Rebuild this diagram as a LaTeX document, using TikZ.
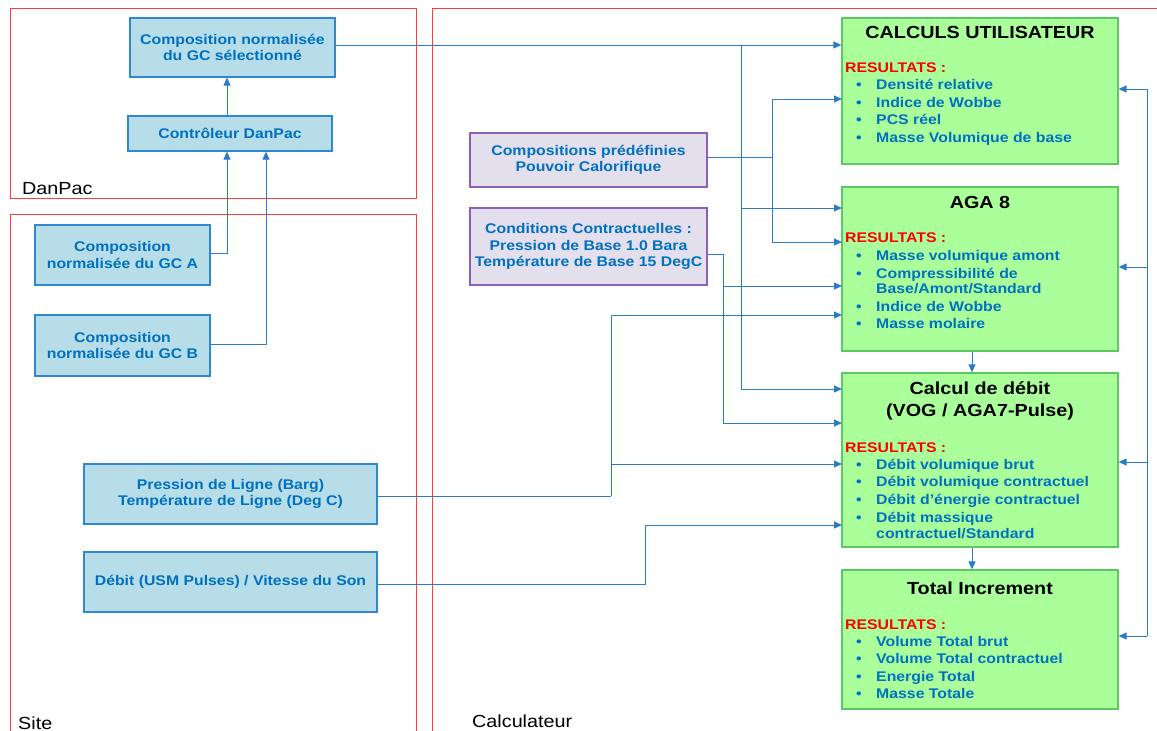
\documentclass[tikz,border=0pt]{standalone}
\usepackage{fontspec}
\setmainfont[FakeStretch=1.13]{Liberation Sans}
\usetikzlibrary{arrows.meta}
\definecolor{tblue}{HTML}{0070C0}
\definecolor{wblue}{HTML}{2A7CC7}
\definecolor{bfill}{HTML}{B7DEE8}
\definecolor{bbord}{HTML}{3088D0}
\definecolor{pfill}{HTML}{E4DFEC}
\definecolor{pbord}{HTML}{8C5FB8}
\definecolor{gfill}{HTML}{ABFF9B}
\definecolor{gbord}{HTML}{5CC863}
\definecolor{fred}{HTML}{FF3B3B}
\tikzset{
  basebox/.style={draw, line width=1.2pt, inner sep=0pt, align=center,
    font=\fontsize{14}{16.5}\selectfont\bfseries, text=tblue},
  bluebox/.style={basebox, draw=bbord, fill=bfill},
  purplebox/.style={basebox, draw=pbord, fill=pfill},
  greenbox/.style={basebox, draw=gbord, fill=gfill},
  wire/.style={draw=wblue, line width=1pt},
  conn/.style={wire, -{Triangle[length=8pt,width=7pt]}},
  frameline/.style={draw=fred, line width=1pt},
  boxtitle/.style={inner sep=0pt, align=center, text=black,
    font=\fontsize{17.5}{22}\selectfont\bfseries},
  restitle/.style={anchor=base west, inner sep=0pt, text=red,
    font=\fontsize{14}{16}\selectfont\bfseries},
  itemtext/.style={anchor=base west, inner sep=0pt, text=tblue,
    font=\fontsize{14}{16}\selectfont\bfseries},
  bulletmark/.style={anchor=base, inner sep=0pt, text=tblue,
    font=\fontsize{14}{16}\selectfont\bfseries},
  zonelabel/.style={anchor=base west, inner sep=0pt, text=black,
    font=\fontsize{17.5}{20}\selectfont}
}
\newcommand\resitem[3]{%
  \node[bulletmark] (#1b) at (859,#2+5) {\textbullet};
  \node[itemtext] (#1t) at (876,#2+5) {#3};}
\begin{document}
\begin{tikzpicture}[x=1pt,y=-1pt]
\useasboundingbox (0,0) rectangle (1157,731);
% zones
\draw[frameline] (10,8) rectangle (416,198);
\draw[frameline] (10,745) -- (10,214) -- (416,214) -- (416,745);
\draw[frameline] (432,745) -- (432,8) -- (1165,8);
\node[zonelabel] (lbl-danpac) at (22,194) {DanPac};
\node[zonelabel] (lbl-site) at (18,729) {Site};
\node[zonelabel] (lbl-calc) at (472,727) {Calculateur};

% blue boxes
\node[bluebox, minimum width=205pt, minimum height=59pt] (sel) at (232.5,47.5) {Composition normalisée\\du GC sélectionné};
\node[bluebox, minimum width=204pt, minimum height=35pt] (ctrl) at (230,133.5) {Contrôleur DanPac};
\node[bluebox, minimum width=175pt, minimum height=60pt] (gca) at (122.5,255) {Composition\\normalisée du GC A};
\node[bluebox, minimum width=175pt, minimum height=61pt] (gcb) at (122.5,345.5) {Composition\\normalisée du GC B};
\node[bluebox, minimum width=293pt, minimum height=60pt] (pres) at (230.5,494) {Pression de Ligne (Barg)\\Température de Ligne (Deg C)};
\node[bluebox, minimum width=293pt, minimum height=60pt] (usm) at (230.5,582) {Débit (USM Pulses) / Vitesse du Son};

% purple boxes
\node[purplebox, minimum width=237pt, minimum height=54pt] (pre) at (588.5,160) {Compositions prédéfinies\\Pouvoir Calorifique};
\node[purplebox, minimum width=237pt, minimum height=77pt] (cond) at (588.5,246.5) {Conditions Contractuelles :\\Pression de Base 1.0 Bara\\Température de Base 15 DegC};

% green boxes
\node[greenbox, minimum width=276pt, minimum height=146pt] (calc) at (980,91) {};
\node[greenbox, minimum width=276pt, minimum height=164pt] (aga) at (980,269) {};
\node[greenbox, minimum width=276pt, minimum height=174pt] (deb) at (980,460) {};
\node[greenbox, minimum width=276pt, minimum height=139pt] (tot) at (980,639.5) {};

% green box contents
\node[boxtitle] (calc-h) at (980,32) {CALCULS UTILISATEUR};
\node[restitle] (calc-r) at (845,72) {RESULTATS :};
\resitem{calc1}{84}{Densité relative}
\resitem{calc2}{102}{Indice de Wobbe}
\resitem{calc3}{119}{PCS réel}
\resitem{calc4}{137}{Masse Volumique de base}

\node[boxtitle] (aga-h) at (980,202) {AGA 8};
\node[restitle] (aga-r) at (845,242) {RESULTATS :};
\resitem{aga1}{255}{Masse volumique amont}
\resitem{aga2}{273}{Compressibilité de}
\node[itemtext] (aga2c) at (876,293) {Base/Amont/Standard};
\resitem{aga3}{306}{Indice de Wobbe}
\resitem{aga4}{323}{Masse molaire}

\node[boxtitle] (deb-h) at (980,401) {Calcul de débit\\(VOG / AGA7-Pulse)};
\node[restitle] (deb-r) at (845,452) {RESULTATS :};
\resitem{deb1}{464}{Débit volumique brut}
\resitem{deb2}{481}{Débit volumique contractuel}
\resitem{deb3}{499}{Débit d’énergie contractuel}
\resitem{deb4}{517}{Débit massique}
\node[itemtext] (deb4c) at (876,538) {contractuel/Standard};

\node[boxtitle] (tot-h) at (980,588) {Total Increment};
\node[restitle] (tot-r) at (845,629) {RESULTATS :};
\resitem{tot1}{641}{Volume Total brut}
\resitem{tot2}{658}{Volume Total contractuel}
\resitem{tot3}{676}{Energie Total}
\resitem{tot4}{693}{Masse Totale}

% DanPac connectors
\coordinate (c1) at (227,0);
\coordinate (c2) at (266,0);
\draw[conn] (ctrl.north -| c1) -- (sel.south -| c1);
\draw[conn] ([yshift=2pt]gca.east) -| (ctrl.south -| c1);
\draw[conn] ([yshift=1.5pt]gcb.east) -| (ctrl.south -| c2);

% junctions and entry points
\coordinate (j1) at (741,45);
\coordinate (j2) at (772,157);
\coordinate (j3) at (723,254);
\coordinate (j4) at (611,496);
\coordinate (j5) at (645,584);
\coordinate (calc-in2) at (842,99);
\coordinate (aga-in1) at (842,208);
\coordinate (aga-in2) at (842,242);
\coordinate (aga-in3) at (842,286);
\coordinate (aga-in4) at (842,315);
\coordinate (deb-in1) at (842,389);
\coordinate (deb-in2) at (842,423);
\coordinate (deb-in3) at (842,464);
\coordinate (deb-in4) at (842,525);

\draw[conn] ([yshift=2.5pt]sel.east) -- (calc.west |- j1);
\draw[conn] (j1) |- (aga-in1);
\draw[conn] (j1) |- (deb-in1);

\draw[wire] ([yshift=3pt]pre.east) -- (j2);
\draw[conn] (j2) |- (calc-in2);
\draw[conn] (j2) |- (aga-in2);

\draw[wire] ([yshift=-7.5pt]cond.east) -| (j3);
\draw[conn] (j3) |- (aga-in3);
\draw[conn] (j3) |- (deb-in2);

\draw[wire] ([yshift=-2pt]pres.east) -- (j4);
\draw[conn] (j4) |- (aga-in4);
\draw[conn] (j4) |- (deb-in3);

\draw[conn] ([yshift=-2pt]usm.east) -- (j5) |- (deb-in4);

% vertical flow
\coordinate (v1) at (972,0);
\draw[conn] (aga.south -| v1) -- (deb.north -| v1);
\draw[conn] (deb.south -| v1) -- (tot.north -| v1);

% feedback bus
\coordinate (fb1) at (1147,89);
\coordinate (fb2) at (1147,267);
\coordinate (fb3) at (1147,462);
\coordinate (fb4) at (1147,636);
\draw[wire] (fb1) -- (fb4);
\draw[conn] (fb1) -- (calc.east |- fb1);
\draw[conn] (fb2) -- (aga.east |- fb2);
\draw[conn] (fb3) -- (deb.east |- fb3);
\draw[conn] (fb4) -- (tot.east |- fb4);
\end{tikzpicture}
\end{document}
